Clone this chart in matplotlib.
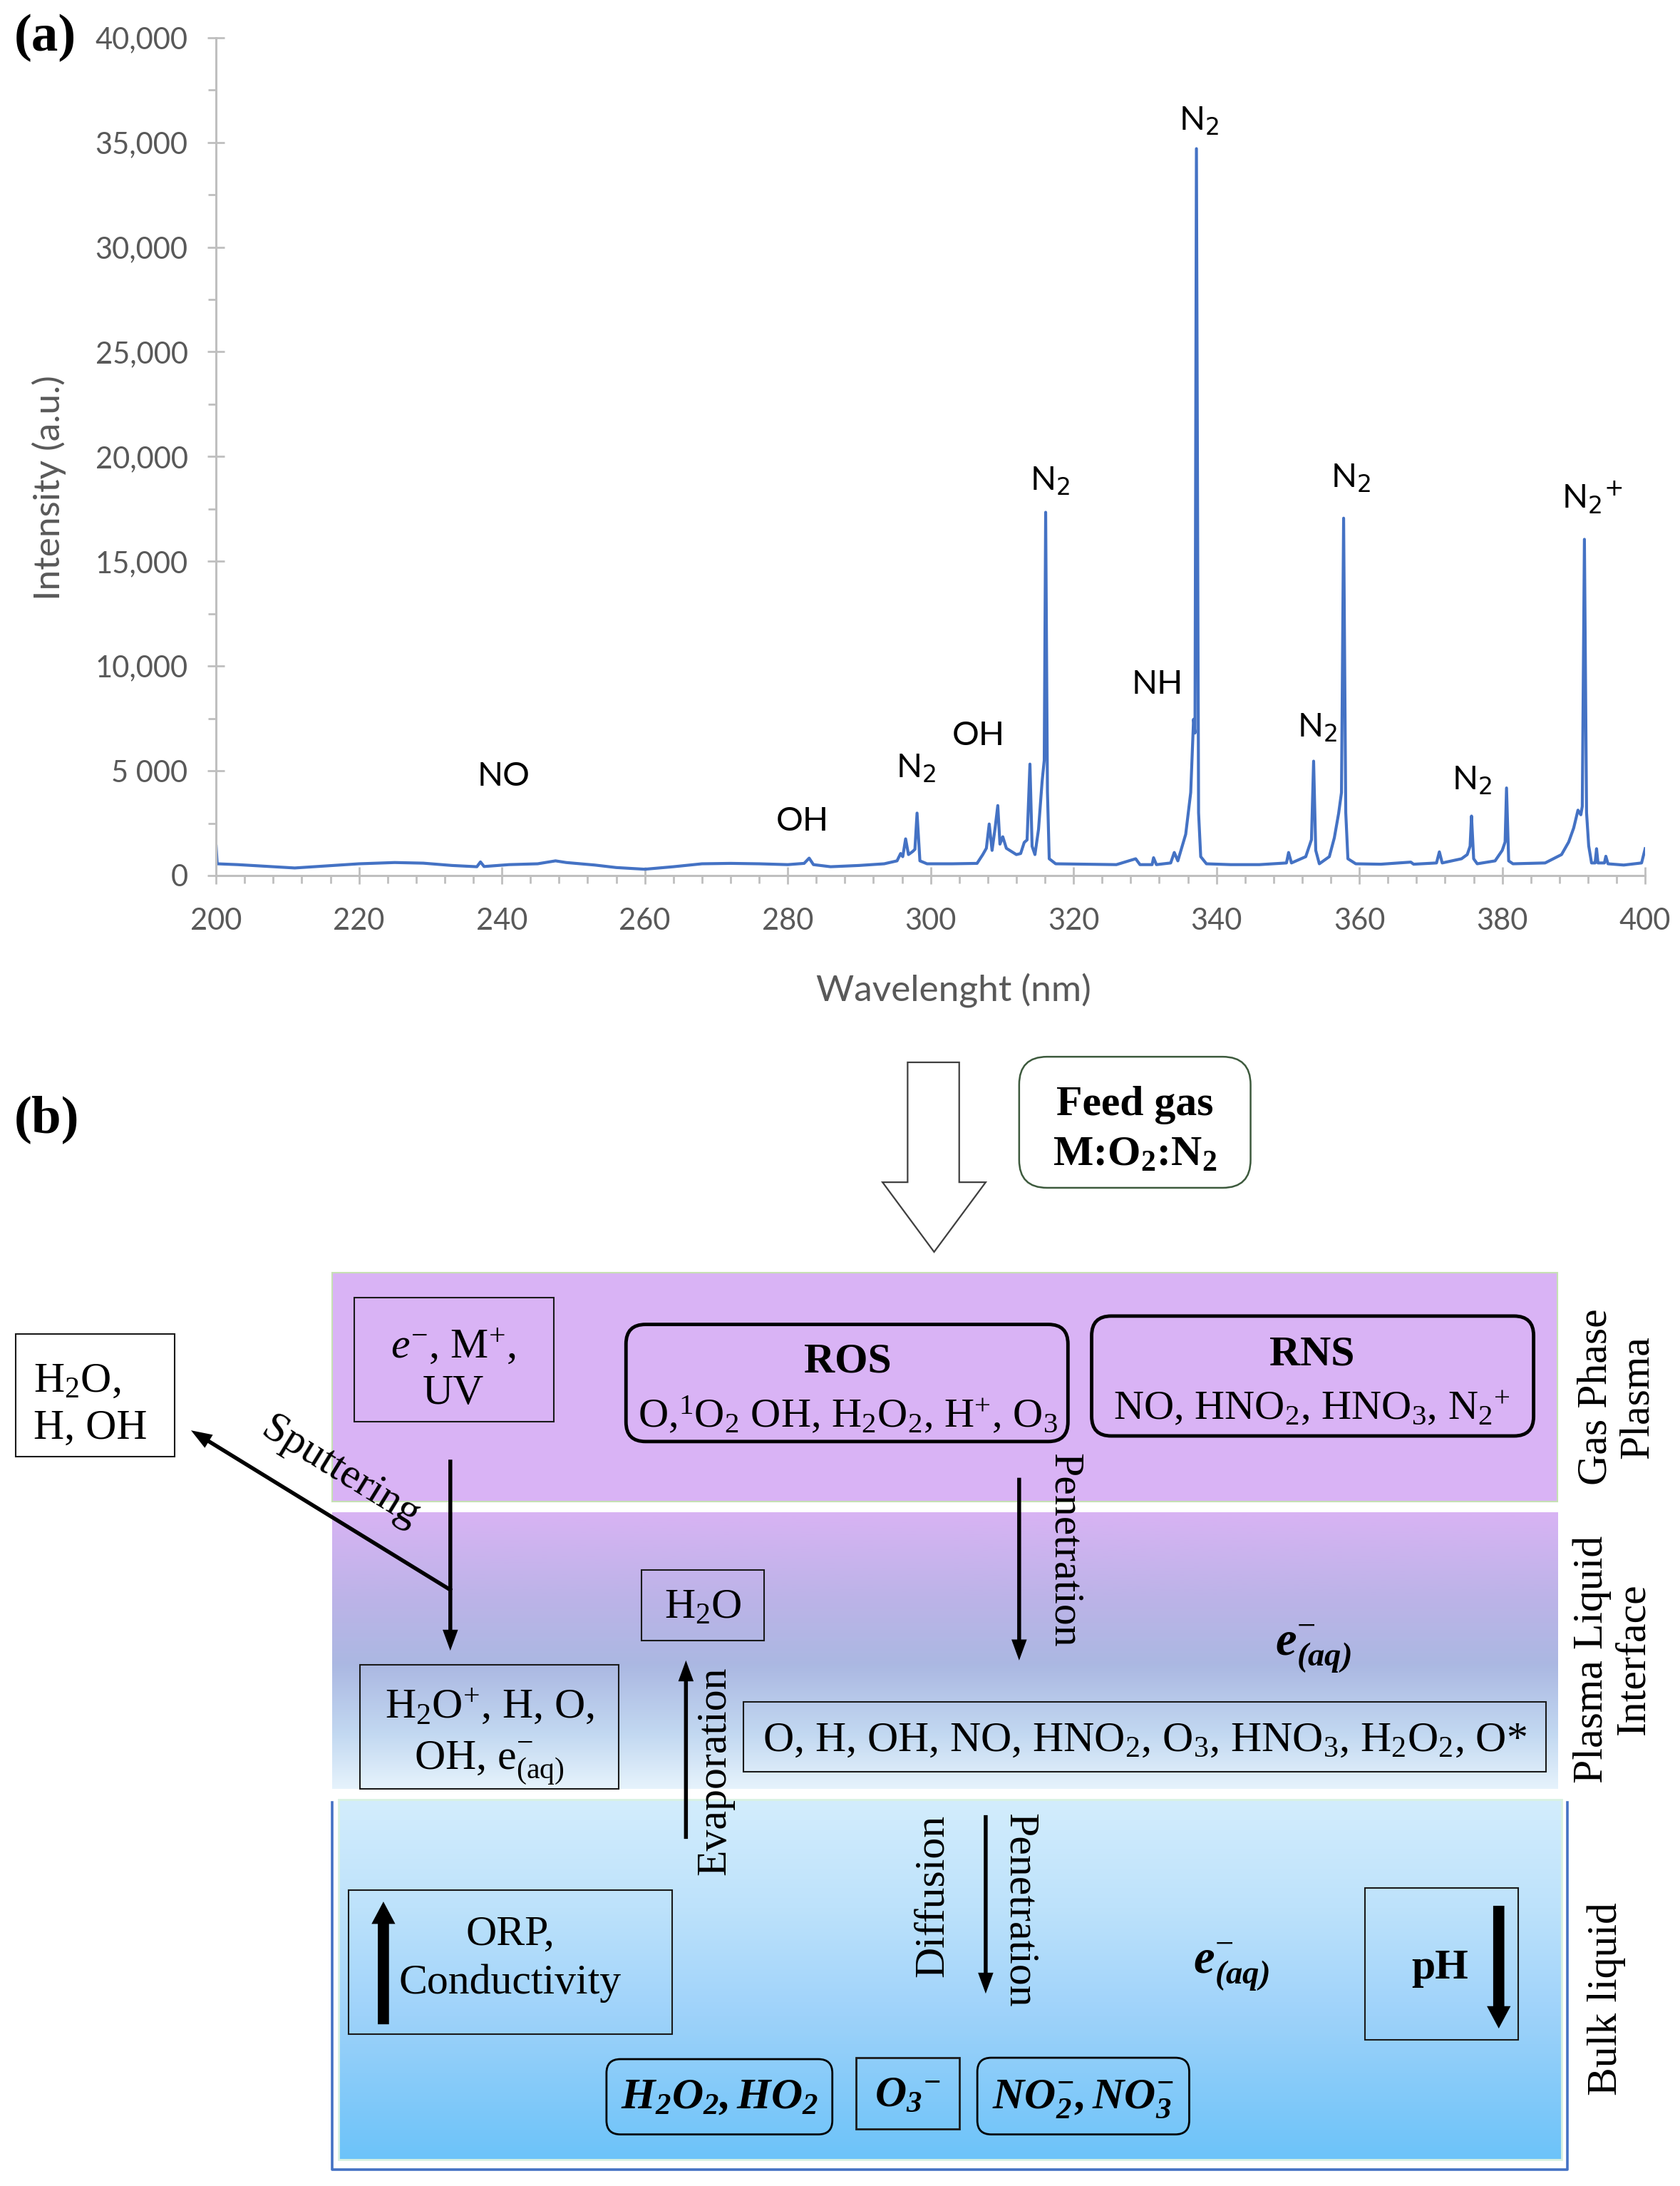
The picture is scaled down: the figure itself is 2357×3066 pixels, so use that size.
import numpy as np
import matplotlib.pyplot as plt
from matplotlib.patches import Rectangle, FancyBboxPatch, Polygon, FancyArrow
from matplotlib.colors import LinearSegmentedColormap
from matplotlib.ticker import MultipleLocator

plt.rcParams['font.family'] = ['Lato', 'DejaVu Sans']
plt.rcParams['mathtext.fontset'] = 'custom'
plt.rcParams['mathtext.rm'] = 'Liberation Serif'
plt.rcParams['mathtext.it'] = 'Liberation Serif:italic'
plt.rcParams['mathtext.bf'] = 'Liberation Serif:bold'
plt.rcParams['mathtext.sf'] = 'Liberation Serif:italic:bold'
plt.rcParams['mathtext.default'] = 'rm'

# ---- (a) OES spectrum ----
wavelength_nm = [200.0, 200.15, 203, 207, 211, 215, 220, 225, 229, 233, 236.5, 237.0, 237.5, 241, 245,
                 247.5, 249, 253, 256, 260, 264, 268, 272, 276, 280, 282.3, 283.0, 283.6, 286, 290, 293.5,
                 295.3, 295.8, 296.1, 296.5, 296.9, 297.5, 297.8, 298.1, 298.5, 299.5, 303, 306.5,
                 307.3, 307.8, 308.2, 308.6, 309.0, 309.4, 309.7, 310.1, 310.6, 311.3, 312.0, 312.6,
                 313.1, 313.5, 313.9, 314.2, 314.6, 315.1, 315.6, 315.9, 316.1, 316.35, 316.6, 317.5,
                 322, 326, 328.7, 329.3, 331.0, 331.2, 331.6, 333.6, 334.1, 334.6, 335.7, 336.4,
                 336.8, 337.0, 337.2, 337.5, 337.8, 338.6, 342, 346, 349.8, 350.1, 350.5,
                 352.5, 353.3, 353.6, 353.9, 354.4, 355.8, 356.5, 357.1, 357.5, 357.8, 358.1, 358.4, 359.5,
                 363, 367.2, 367.6, 370.8, 371.2, 371.6, 374.3, 375.1, 375.5, 375.7, 376.0, 376.5,
                 379.0, 380.0, 380.4, 380.6, 380.9, 381.5, 386, 388.3, 389.3, 390.0, 390.6, 391.0,
                 391.2, 391.5, 391.8, 392.1, 392.5, 393.0, 393.2, 393.4, 394.3, 394.5, 394.8, 397,
                 399.5, 400.0]
intensity_au = [1400, 560, 520, 440, 360, 450, 560, 620, 590, 480, 420, 650, 430, 520, 560,
                700, 620, 500, 380, 300, 420, 560, 580, 560, 520, 580, 830, 520, 420, 480, 560,
                700, 1050, 900, 1750, 1000, 1150, 1250, 2980, 700, 560, 560, 580,
                1000, 1300, 2460, 1200, 2200, 3340, 1500, 1850, 1300, 1150, 1000, 1050,
                1580, 1700, 5320, 1400, 1000, 2200, 4480, 5500, 17340, 4000, 800, 560,
                540, 520, 800, 520, 520, 850, 520, 600, 1100, 700, 1970, 3960,
                7460, 6800, 34700, 3000, 900, 560, 520, 520, 600, 1100, 600,
                900, 1710, 5460, 1200, 560, 900, 1800, 2960, 3960, 17060, 3000, 800, 560,
                540, 640, 540, 600, 1130, 600, 800, 1000, 1400, 2840, 800, 560,
                700, 1200, 1600, 4180, 700, 560, 600, 1000, 1600, 2270, 3120, 2900,
                3300, 16050, 3000, 1420, 600, 600, 1280, 600, 600, 920, 560, 500,
                600, 1280]

y_ticks = [0, 5000, 10000, 15000, 20000, 25000, 30000, 35000, 40000]
y_tick_labels = ['0', '5 000', '10,000', '15,000', '20,000', '25,000', '30,000', '35,000', '40,000']

peak_names = ['NO', 'OH', 'N$_2$', 'OH', 'N$_2$', 'NH', 'N$_2$', 'N$_2$', 'N$_2$', 'N$_2$', 'N$_2$$^{+}$']
peak_label_xy = [(240.2, 4726), (282.1, 2596), (297.9, 5125), (306.7, 6656), (316.7, 18836),
                 (331.7, 9119), (337.6, 36009), (354.1, 7055), (358.8, 18969), (375.8, 4526),
                 (392.6, 18038)]

W, H = 1205, 1568
SERIF = 'Liberation Serif'
FS = 43

fig = plt.figure(figsize=(23.57, 30.66), dpi=100)

# background axes in reference pixel frame (for the schematic)
bg = fig.add_axes([0, 0, 1, 1], zorder=0)
bg.axis('off')

ax = fig.add_axes([155 / W, 1 - 628 / H, (1180 - 155) / W, (628 - 27) / H], zorder=1)
ax.patch.set_alpha(0)
ax.plot(wavelength_nm, intensity_au, color='#4472c4', lw=3.0, solid_joinstyle='round')
ax.set_xlim(200, 400)
ax.set_ylim(0, 40000)
ax.xaxis.set_major_locator(MultipleLocator(20))
ax.xaxis.set_minor_locator(MultipleLocator(4))
ax.set_yticks(y_ticks, y_tick_labels)
ax.yaxis.set_minor_locator(MultipleLocator(2500))
for s in ['top', 'right']:
    ax.spines[s].set_visible(False)
for s in ['left', 'bottom']:
    ax.spines[s].set_color('#bfbfbf')
    ax.spines[s].set_linewidth(2.2)
ax.tick_params(which='major', direction='inout', length=17, width=2, color='#bfbfbf',
               labelsize=30, labelcolor='#595959')
ax.tick_params(which='minor', direction='out', length=8, width=2, color='#bfbfbf')
ax.tick_params(axis='x', which='major', pad=24)
ax.tick_params(axis='y', which='major', pad=20)
ax.set_xlabel('Wavelenght (nm)', fontsize=37, color='#595959', va='center')
ax.xaxis.set_label_coords((684 - 155) / 1025, -(710 - 628) / 601)
ax.set_ylabel('Intensity (a.u.)', fontsize=37, color='#595959', va='center')
ax.yaxis.set_label_coords((35 - 155) / 1025, (628 - 350) / 601)

for name, (px, py) in zip(peak_names, peak_label_xy):
    ax.text(px, py, name, fontsize=34, ha='center', va='center', color='black',
            family='Lato', math_fontfamily='dejavusans')


# ---- (b) schematic ----
def txt(x, y, s, fs=FS, **kw):
    em = fs / 0.72 / 1.956
    bg.text(x, y + 0.33 * em, s, fontsize=fs, ha=kw.pop('ha', 'center'), va='baseline',
            family=SERIF, **kw)


def rtxt(x, y, s, rot, fs=FS, **kw):
    bg.text(x, y, s, fontsize=fs, ha='center', va='center', rotation=rot,
            rotation_mode='anchor', family=SERIF, **kw)


def rect(x0, y0, x1, y1, lw=1.5, ec='#1a1a1a', fc='none', z=3):
    bg.add_patch(Rectangle((x0, y0), x1 - x0, y1 - y0, fc=fc, ec=ec, lw=lw, zorder=z))


def rbox(x0, y0, x1, y1, lw=3.5, ec='black', fc='none', r=14, z=3):
    bg.add_patch(FancyBboxPatch((x0, y0), x1 - x0, y1 - y0,
                                boxstyle=f'round,pad=0,rounding_size={r}',
                                fc=fc, ec=ec, lw=lw, zorder=z))


def arrow(x0, y0, x1, y1, w=2.8, hw=11, hl=15):
    bg.add_patch(FancyArrow(x0, y0, x1 - x0, y1 - y0, width=w, head_width=hw, head_length=hl,
                            length_includes_head=True, fc='black', ec='none', zorder=4))


bg.text(10, 27, '(a)', fontsize=54, fontweight='bold', family=SERIF, ha='left', va='center')
bg.text(10, 803, '(b)', fontsize=54, fontweight='bold', family=SERIF, ha='left', va='center')

# feed gas
bg.add_patch(Polygon([(651, 762), (688, 762), (688, 848), (707, 848), (670, 898),
                      (633, 848), (651, 848)], closed=True, fc='white', ec='#3f3f3f', lw=1.6, zorder=3))
rbox(731, 758, 897, 852, lw=1.8, ec='#3d5a3d', fc='white', r=20)
txt(814, 790, 'Feed gas', fontweight='bold')
txt(814, 826, r'M:O$_\mathbf{2}$:N$_\mathbf{2}$', fontweight='bold')

# layers
bg.add_patch(Rectangle((238, 913), 879, 164, fc='#d9b3f5', ec='#c6e0b4', lw=1.5, zorder=1))
grad = np.linspace(0, 1, 256).reshape(-1, 1)
cm_iface = LinearSegmentedColormap.from_list('iface', [(0, '#d8b3f4'), (0.3, '#bdb3e8'),
                                                       (0.55, '#abb8e2'), (0.8, '#c2d8f1'),
                                                       (1, '#e6f3fc')])
bg.imshow(grad, extent=(238, 1117, 1283, 1085), cmap=cm_iface, aspect='auto', zorder=1)
cm_bulk = LinearSegmentedColormap.from_list('bulk', [(0, '#d3edfd'), (0.3, '#bde2fb'),
                                                     (0.6, '#9ed2fa'), (1, '#6cc3f9')])
bg.imshow(grad, extent=(243, 1120, 1549, 1291), cmap=cm_bulk, aspect='auto', zorder=1)
bg.add_patch(Rectangle((243, 1291), 877, 258, fc='none', ec='#d8f2e2', lw=2, zorder=2))
bg.plot([238, 238, 1124, 1124], [1293, 1556, 1556, 1293], color='#4472c4', lw=2.6, zorder=2)

rtxt(1160, 1002, 'Gas Phase\nPlasma', 90, linespacing=1.1)
rtxt(1157, 1190, 'Plasma Liquid\nInterface', 90, linespacing=1.1)
rtxt(1152, 1434, 'Bulk liquid', 90)

# gas phase boxes
rect(11, 957, 125, 1045, fc='white')
txt(24, 988, 'H$_2$O,', ha='left')
txt(24, 1022, 'H, OH', ha='left')
rect(254, 931, 397, 1020)
txt(325, 964, r'$\mathit{e}^{-}$, M$^{+}$,')
txt(325, 997, 'UV')
rbox(449, 950, 766, 1034)
txt(608, 974, 'ROS', fontweight='bold')
txt(608, 1014, 'O,$^{1}$O$_{2}$ OH, H$_{2}$O$_{2}$, H$^{+}$, O$_{3}$', fs=42)
rbox(783, 944, 1100, 1030)
txt(941, 969, 'RNS', fontweight='bold')
txt(941, 1008, 'NO, HNO$_{2}$, HNO$_{3}$, N$_{2}$$^{+}$', fs=42)

# sputtering and down arrow
arrow(324, 1141, 137, 1026)
rtxt(244, 1056, 'Sputtering', -31.6)
arrow(323, 1047, 323, 1184)

# interface
rect(258, 1194, 444, 1283)
txt(351, 1222, 'H$_{2}$O$^{+}$, H, O,')
txt(351, 1259, 'OH, e$^{-}_{(aq)}$')
rect(460, 1126, 548, 1177)
txt(504, 1151, 'H$_{2}$O')
arrow(492, 1319, 492, 1191)
rtxt(513, 1270, 'Evaporation', 90)
arrow(731, 1060, 731, 1191)
rtxt(763, 1112, 'Penetration', -90)
txt(942, 1176, r'$\mathsf{e}^{-}_{\mathsf{(aq)}}$', fs=48)
rect(533, 1221, 1109, 1271)
txt(821, 1246, 'O, H, OH, NO, HNO$_{2}$, O$_{3}$, HNO$_{3}$, H$_{2}$O$_{2}$, O*')

# bulk liquid
arrow(707, 1302, 707, 1430)
rtxt(669, 1360, 'Diffusion', 90)
rtxt(731, 1370, 'Penetration', -90)
txt(883, 1404, r'$\mathsf{e}^{-}_{\mathsf{(aq)}}$', fs=48)
rect(250, 1356, 482, 1459)
arrow(275, 1452, 275, 1364, w=8, hw=17, hl=16)
txt(366, 1385, 'ORP,')
txt(366, 1420, 'Conductivity')
rect(979, 1354, 1089, 1463)
txt(1033, 1409, 'pH', fontweight='bold')
arrow(1075, 1367, 1075, 1455, w=8, hw=17, hl=16)
rbox(435, 1477, 597, 1531, lw=2, r=10)
txt(516, 1502, r'$\mathsf{H_2O_2,HO_2}$', fs=44)
rect(614, 1476, 688, 1527, lw=2)
txt(651, 1500, r'$\mathsf{O_3{}^{-}}$', fs=44)
rbox(701, 1476, 853, 1531, lw=2, r=10)
txt(777, 1502, r'$\mathsf{NO_2^{-},NO_3^{-}}$', fs=44)

bg.set_xlim(0, W)
bg.set_ylim(H, 0)

fig.savefig('out.png', dpi=100)
